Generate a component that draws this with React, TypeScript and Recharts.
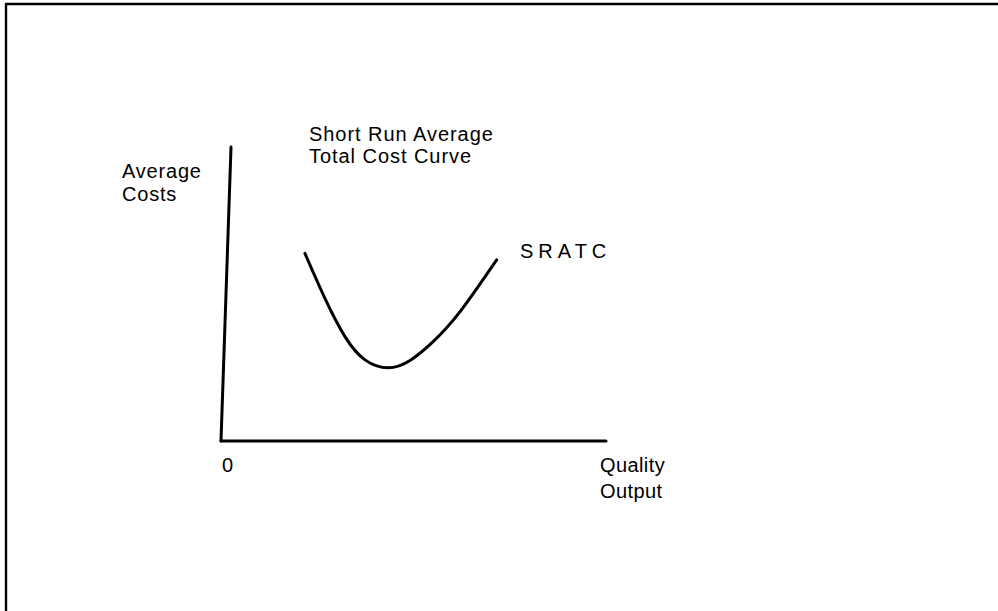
import React from "react";
import { ComposedChart, Line, XAxis, YAxis, ReferenceLine, Customized } from "recharts";

// Quantity (output) values along the SRATC curve
const quantity = [21.8, 27.0, 32.2, 37.4, 43.4, 49.1, 55.1, 62.1, 71.6];
// Average cost values along the SRATC curve
const avgCost = [63.8, 48.5, 35.5, 27.6, 24.9, 27.4, 33.8, 44.0, 61.6];

const data = quantity.map((q, i) => ({ q, c: avgCost[i] }));

const FONT = "'Liberation Sans', Arial, sans-serif";

const Annotations = () => (
  <g fontFamily={FONT} fontSize={20} fill="#000">
    <path d="M6,611 L6,4 L998,4" stroke="#000" strokeWidth={2.4} fill="none" />
    <text x={309} y={141} letterSpacing={0.95}>Short Run Average</text>
    <text x={309} y={163} letterSpacing={0.95}>Total Cost Curve</text>
    <text x={122} y={178} letterSpacing={0.8}>Average</text>
    <text x={122} y={201} letterSpacing={0.8}>Costs</text>
    <text x={520} y={258} letterSpacing={5}>SRATC</text>
    <text x={222} y={472}>0</text>
    <text x={600} y={472} letterSpacing={0.4}>Quality</text>
    <text x={600} y={498} letterSpacing={0.4}>Output</text>
  </g>
);

export default function App() {
  return (
    <div style={{ position: "absolute", left: 0, top: 0, width: 998, height: 611, background: "#fff" }}>
      <ComposedChart
        width={998}
        height={611}
        data={data}
        margin={{ top: 147, left: 221, right: 392, bottom: 170 }}
      >
        <XAxis dataKey="q" type="number" domain={[0, 100]} hide />
        <YAxis type="number" domain={[0, 100]} hide />
        <ReferenceLine
          segment={[{ x: 0, y: 0 }, { x: 100, y: 0 }]}
          stroke="#000"
          strokeWidth={3}
          strokeLinecap="round"
          ifOverflow="visible"
        />
        <ReferenceLine
          segment={[{ x: 0, y: 0 }, { x: 2.6, y: 100 }]}
          stroke="#000"
          strokeWidth={3}
          strokeLinecap="round"
          ifOverflow="visible"
        />
        <Line
          dataKey="c"
          type="natural"
          stroke="#000"
          strokeWidth={3}
          dot={false}
          strokeLinecap="round"
          isAnimationActive={false}
        />
        <Customized component={Annotations} />
      </ComposedChart>
    </div>
  );
}
